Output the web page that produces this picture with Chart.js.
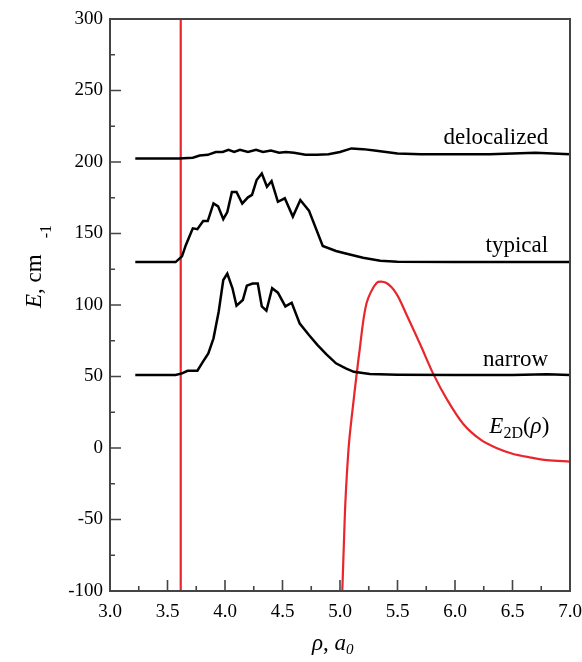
<!DOCTYPE html>
<html><head><meta charset="utf-8">
<script src="https://cdn.jsdelivr.net/npm/chart.js@4/dist/chart.umd.min.js"></script>
<style>html,body{margin:0;padding:0;background:#fff}#wrap{width:582px;height:662px}</style>
</head><body><div id="wrap"><canvas id="c" width="582" height="662"></canvas></div>
<script>
// ---- data ----
const delocX = [3.22, 3.6, 3.72, 3.78, 3.85, 3.92, 3.98, 4.03, 4.08, 4.13, 4.2, 4.27, 4.33, 4.4, 4.47, 4.53, 4.6, 4.7, 4.8, 4.9, 5.0, 5.1, 5.2, 5.3, 5.5, 5.7, 6.0, 6.3, 6.7, 7.0];
const delocY = [202.5, 202.5, 203, 204.5, 205, 207, 207, 208.5, 207, 208.5, 207, 208.5, 207, 208, 206.5, 207, 206.5, 205, 205, 205.5, 207, 209.5, 209, 208, 206, 205.5, 205.5, 205.5, 206.5, 205.5];

const typX = [3.22, 3.57, 3.626, 3.66, 3.72, 3.76, 3.81, 3.85, 3.90, 3.94, 3.985, 4.02, 4.06, 4.10, 4.15, 4.20, 4.235, 4.275, 4.32, 4.365, 4.405, 4.46, 4.52, 4.59, 4.655, 4.73, 4.85, 4.965, 5.05, 5.2, 5.35, 5.5, 6.0, 6.5, 7.0];
const typY = [130, 130, 134, 142, 153.6, 153, 158.7, 158.7, 171, 169, 160, 165, 179, 179, 171, 175.3, 177, 187.4, 192, 182.7, 186.7, 172.2, 174.6, 161.8, 173.4, 166, 141.3, 137.8, 136, 133, 131, 130.3, 130, 130, 130];

const narX = [3.22, 3.57, 3.626, 3.675, 3.76, 3.806, 3.855, 3.90, 3.945, 3.985, 4.02, 4.065, 4.10, 4.155, 4.19, 4.24, 4.285, 4.32, 4.36, 4.41, 4.46, 4.525, 4.58, 4.65, 4.73, 4.805, 4.88, 4.965, 5.05, 5.12, 5.26, 5.5, 6.0, 6.5, 6.8, 7.0];
const narY = [51, 51, 52.2, 54, 54, 60, 66.2, 76.7, 95.3, 117.5, 122, 111.7, 99.5, 103.5, 113.5, 115, 115, 99, 96, 111.7, 108.6, 99, 101.6, 87, 79, 72, 65.7, 59.2, 55.7, 53.3, 51.7, 51.2, 51, 51, 51.5, 51];

const e2dX = [5.02, 5.035, 5.045, 5.06, 5.08, 5.115, 5.17, 5.23, 5.32, 5.40, 5.49, 5.58, 5.70, 5.81, 5.93, 6.07, 6.22, 6.36, 6.5, 6.65, 6.8, 7.0];
const e2dY = [-100, -64, -41, -18, 5, 31, 68, 101, 115.5, 115.5, 108, 93, 72, 52, 34, 17, 6, 0, -4, -6.5, -8.5, -9.5];

const rhoCX = [3.615, 3.615];
const rhoCY = [-100, 300];

const xTicks = [3.0, 3.5, 4.0, 4.5, 5.0, 5.5, 6.0, 6.5, 7.0];
const yTicks = [-100, -50, 0, 50, 100, 150, 200, 250, 300];

const curveLabels = [
  {text: 'delocalized', x: 6.81, y: 212.4},
  {text: 'typical', x: 6.81, y: 137},
  {text: 'narrow', x: 6.81, y: 57}
];

const pts = (xs, ys) => xs.map((x, i) => ({x, y: ys[i]}));
const BLACK = '#000000', RED = '#e8262c', AX = '#444444';
const SERIF = '"Liberation Serif","DejaVu Serif",serif';

const decor = {
  id: 'decor',
  afterDraw(chart) {
    const ctx = chart.ctx, a = chart.chartArea;
    const xs = chart.scales.x, ys = chart.scales.y;
    ctx.save();
    ctx.strokeStyle = AX; ctx.lineWidth = 2;
    ctx.strokeRect(a.left, a.top, a.right - a.left, a.bottom - a.top);
    ctx.lineWidth = 1.6;
    ctx.beginPath();
    for (let v = 3.0; v <= 7.0001; v += 0.25) {
      const px = xs.getPixelForValue(v);
      const major = Math.abs(v * 2 - Math.round(v * 2)) < 1e-6;
      ctx.moveTo(px, a.bottom); ctx.lineTo(px, a.bottom - (major ? 11 : 5));
    }
    for (let v = -100; v <= 300; v += 25) {
      const py = ys.getPixelForValue(v);
      const major = v % 50 === 0;
      ctx.moveTo(a.left, py); ctx.lineTo(a.left + (major ? 11 : 5), py);
    }
    ctx.stroke();

    // curve labels
    ctx.fillStyle = '#000';
    ctx.textAlign = 'right'; ctx.textBaseline = 'alphabetic';
    ctx.font = '23px ' + SERIF;
    curveLabels.forEach(l => ctx.fillText(l.text, xs.getPixelForValue(l.x), ys.getPixelForValue(l.y)));

    // E2D(rho) label
    let bx = xs.getPixelForValue(6.82), by = ys.getPixelForValue(10.3);
    ctx.textAlign = 'left';
    ctx.font = '23px ' + SERIF; const wParenL = ctx.measureText('(').width;
    ctx.font = 'italic 23px ' + SERIF; const wRho = ctx.measureText('ρ').width;
    ctx.font = '23px ' + SERIF; const wParenR = ctx.measureText(')').width;
    ctx.font = '16px ' + SERIF; const w2D = ctx.measureText('2D').width;
    ctx.font = 'italic 23px ' + SERIF; const wE = ctx.measureText('E').width;
    let x0 = bx - (wE + w2D + wParenL + wRho + wParenR);
    ctx.font = 'italic 23px ' + SERIF; ctx.fillText('E', x0, by); x0 += wE;
    ctx.font = '16px ' + SERIF; ctx.fillText('2D', x0, by + 5); x0 += w2D;
    ctx.font = '23px ' + SERIF; ctx.fillText('(', x0, by); x0 += wParenL;
    ctx.font = 'italic 23px ' + SERIF; ctx.fillText('ρ', x0, by); x0 += wRho;
    ctx.font = '23px ' + SERIF; ctx.fillText(')', x0, by);

    // x axis title
    let tx = 312, ty = 650;
    ctx.font = 'italic 23px ' + SERIF; ctx.fillText('ρ', tx, ty); tx += ctx.measureText('ρ').width;
    ctx.font = '23px ' + SERIF; ctx.fillText(', ', tx, ty); tx += ctx.measureText(', ').width;
    ctx.font = 'italic 23px ' + SERIF; ctx.fillText('a', tx, ty); tx += ctx.measureText('a').width;
    ctx.font = 'italic 15px ' + SERIF; ctx.fillText('0', tx, ty + 4);

    // y axis title (rotated)
    ctx.save();
    ctx.translate(41, 308);
    ctx.rotate(-Math.PI / 2);
    let rx = 0;
    ctx.font = 'italic 23px ' + SERIF; ctx.fillText('E', rx, 0); rx += ctx.measureText('E').width;
    ctx.font = '23px ' + SERIF; ctx.fillText(', cm', rx, 0); rx += ctx.measureText(', cm').width;
    ctx.font = '16px ' + SERIF; ctx.fillText('-1', rx + 16, 10);
    ctx.restore();
    ctx.restore();
  }
};

new Chart(document.getElementById('c'), {
  type: 'scatter',
  data: {
    datasets: [
      {data: pts(delocX, delocY), borderColor: BLACK, borderWidth: 2.5},
      {data: pts(typX, typY), borderColor: BLACK, borderWidth: 2.5},
      {data: pts(narX, narY), borderColor: BLACK, borderWidth: 2.5},
      {data: pts(e2dX, e2dY), borderColor: RED, borderWidth: 2.2, tension: 0.3},
      {data: pts(rhoCX, rhoCY), borderColor: RED, borderWidth: 2.2}
    ].map(d => Object.assign({showLine: true, pointRadius: 0, pointHoverRadius: 0, fill: false, tension: 0, clip: 2}, d))
  },
  plugins: [decor],
  options: {
    responsive: false,
    animation: false,
    events: [],
    layout: {padding: {top: 19, right: 12, left: 0, bottom: 0}},
    plugins: {legend: {display: false}, tooltip: {enabled: false}},
    scales: {
      x: {
        type: 'linear', min: 3, max: 7,
        afterBuildTicks: s => { s.ticks = xTicks.map(v => ({value: v})); },
        afterFit: s => { s.height = 71; s.paddingRight = 0; s.paddingLeft = 0; },
        grid: {display: false, drawTicks: false}, border: {display: false},
        ticks: {color: '#000', padding: 10, font: {family: SERIF, size: 19}, callback: v => Number(v).toFixed(1)}
      },
      y: {
        type: 'linear', min: -100, max: 300,
        afterBuildTicks: s => { s.ticks = yTicks.map(v => ({value: v})); },
        afterFit: s => { s.width = 110; s.paddingTop = 0; s.paddingBottom = 0; },
        grid: {display: false, drawTicks: false}, border: {display: false},
        ticks: {color: '#000', padding: 7, font: {family: SERIF, size: 19}, callback: v => String(v)}
      }
    }
  }
});
</script></body></html>
